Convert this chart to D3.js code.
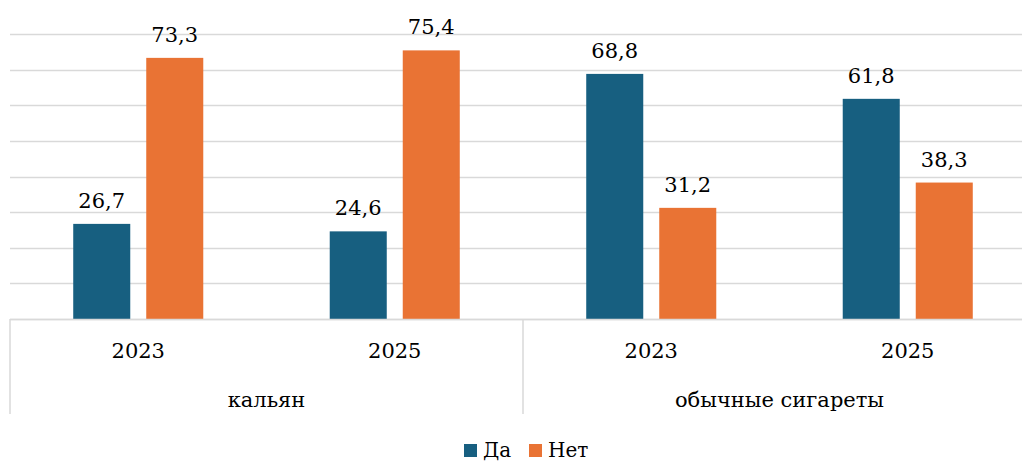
<!DOCTYPE html>
<html>
<head>
<meta charset="utf-8">
<script src="https://cdn.jsdelivr.net/npm/d3@7"></script>
<style>
  body { margin: 0; background: #fff; }
  svg { display: block; }
</style>
</head>
<body>
<svg id="chart" width="1022" height="461"></svg>
<script>
// data
var groups = ["кальян", "обычные сигареты"];
var years = ["2023", "2025"];
var series = ["Да", "Нет"];
var da_values = [26.7, 24.6, 68.8, 61.8];
var net_values = [73.3, 75.4, 31.2, 38.3];
var y_ticks = [0, 10, 20, 30, 40, 50, 60, 70, 80];

var colors = { "Да": "#175f80", "Нет": "#e97334" };
var serif = "'DejaVu Serif', serif";

var svg = d3.select("#chart");
var left = 10, right = 1036, base = 319, top_y = 34;

// one slot per (group, year)
var slots = [];
groups.forEach(function(g, gi) {
	years.forEach(function(yr, yi) {
		var k = gi * years.length + yi;
		slots.push({ key: g + "|" + yr, group: g, year: yr, "Да": da_values[k], "Нет": net_values[k] });
	});
});

var x0 = d3.scaleBand().domain(slots.map(d=>d.key)).range([left, right]).padding(0);
var x1 = d3.scaleBand().domain(series).range([0, x0.bandwidth()])
	.paddingInner(0.219).paddingOuter(0.866);
var y = d3.scaleLinear().domain([0, 80]).range([base, top_y]);

// gridlines
svg.append("g").selectAll("line")
  .data(y_ticks)
  .enter().append("line")
  .attr("x1", left).attr("x2", right)
  .attr("y1", d=>Math.round(y(d)) + 0.5).attr("y2", d=>Math.round(y(d)) + 0.5)
  .style("stroke", "#d9d9d9")
  .style("stroke-width", 1.5);

// bars
var slot_g = svg.append("g").selectAll("g")
  .data(slots)
  .enter().append("g")
  .attr("transform", d=>"translate(" + x0(d.key) + ",0)");

slot_g.selectAll("rect")
  .data(d=>series.map(s=>({ s: s, v: d[s] })))
  .enter().append("rect")
  .attr("x", d=>x1(d.s))
  .attr("width", x1.bandwidth())
  .attr("y", d=>y(d.v))
  .attr("height", d=>base - y(d.v))
  .style("fill", d=>colors[d.s]);

var fmt = d3.format(".1f");
slot_g.selectAll("text")
  .data(d=>series.map(s=>({ s: s, v: d[s] })))
  .enter().append("text")
  .attr("x", d=>x1(d.s) + x1.bandwidth() / 2)
  .attr("y", d=>y(d.v) - 16)
  .attr("text-anchor", "middle")
  .style("font-family", serif)
  .style("font-size", "21px")
  .style("fill", "#000")
  .text(d=>fmt(d.v).replace(".", ","));

// category axis
svg.append("line")
  .attr("x1", left).attr("x2", right)
  .attr("y1", base + 0.5).attr("y2", base + 0.5)
  .style("stroke", "#d9d9d9").style("stroke-width", 1.5);

var gw = x0.bandwidth() * years.length;
svg.append("g").selectAll("line")
  .data(d3.range(groups.length + 1))
  .enter().append("line")
  .attr("x1", i=>left + i * gw).attr("x2", i=>left + i * gw)
  .attr("y1", base).attr("y2", 414)
  .style("stroke", "#d9d9d9").style("stroke-width", 1.5);

svg.append("g").selectAll("text")
  .data(slots)
  .enter().append("text")
  .attr("x", d=>x0(d.key) + x0.bandwidth() / 2)
  .attr("y", 358)
  .attr("text-anchor", "middle")
  .style("font-family", serif)
  .style("font-size", "21px")
  .text(d=>d.year);

svg.append("g").selectAll("text")
  .data(groups)
  .enter().append("text")
  .attr("x", (d, i)=>left + i * gw + gw / 2)
  .attr("y", 407)
  .attr("text-anchor", "middle")
  .style("font-family", serif)
  .style("font-size", "21px")
  .text(d=>d);

// legend
var legend = svg.append("g").selectAll("g")
  .data(series)
  .enter().append("g")
  .attr("transform", (d, i)=>"translate(" + (464 + i * 65) + ",444)");
legend.append("rect")
  .attr("width", 13).attr("height", 13)
  .style("fill", d=>colors[d]);
legend.append("text")
  .attr("x", 19).attr("y", 13)
  .style("font-family", serif)
  .style("font-size", "20px")
  .text(d=>d);
</script>
</body>
</html>
